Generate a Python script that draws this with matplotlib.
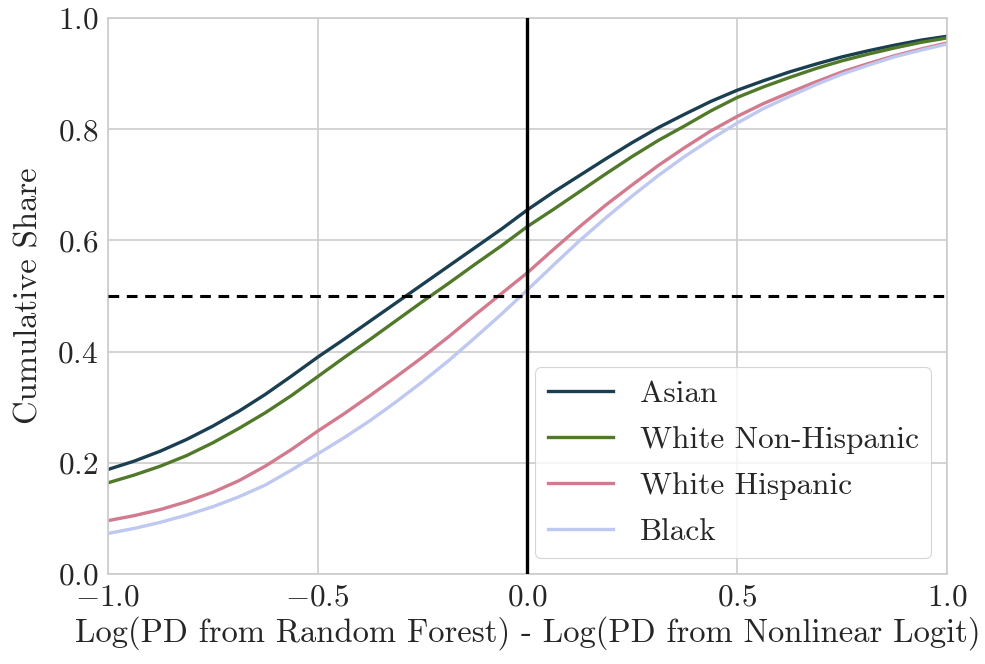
import matplotlib
matplotlib.use("Agg")
import matplotlib.pyplot as plt
import numpy as np

# log-PD difference grid (step 1/16) and cumulative shares
x_vals = [-1.0, -0.9375, -0.875, -0.8125, -0.75, -0.6875, -0.625, -0.5625,
          -0.5, -0.4375, -0.375, -0.3125, -0.25, -0.1875, -0.125, -0.0625,
          0.0, 0.0625, 0.125, 0.1875, 0.25, 0.3125, 0.375, 0.4375,
          0.5, 0.5625, 0.625, 0.6875, 0.75, 0.8125, 0.875, 0.9375, 1.0]
asian = [0.188, 0.203, 0.221, 0.242, 0.266, 0.293, 0.323, 0.356,
         0.390, 0.422, 0.455, 0.488, 0.521, 0.554, 0.587, 0.620,
         0.655, 0.687, 0.717, 0.747, 0.776, 0.803, 0.827, 0.850,
         0.870, 0.887, 0.903, 0.917, 0.930, 0.941, 0.951, 0.960, 0.967]
white_non_hisp = [0.164, 0.178, 0.194, 0.213, 0.236, 0.262, 0.290, 0.321,
                  0.355, 0.389, 0.422, 0.456, 0.490, 0.523, 0.557, 0.590,
                  0.625, 0.656, 0.688, 0.720, 0.751, 0.780, 0.806, 0.833,
                  0.857, 0.876, 0.893, 0.909, 0.923, 0.935, 0.946, 0.956, 0.964]
white_hisp = [0.096, 0.105, 0.116, 0.130, 0.147, 0.168, 0.194, 0.224,
              0.257, 0.288, 0.321, 0.355, 0.390, 0.427, 0.466, 0.504,
              0.542, 0.584, 0.625, 0.664, 0.700, 0.735, 0.767, 0.797,
              0.823, 0.846, 0.866, 0.885, 0.903, 0.918, 0.932, 0.944, 0.955]
black = [0.073, 0.082, 0.093, 0.106, 0.121, 0.139, 0.160, 0.187,
         0.216, 0.245, 0.276, 0.310, 0.346, 0.384, 0.425, 0.467,
         0.511, 0.556, 0.600, 0.641, 0.680, 0.717, 0.751, 0.782,
         0.811, 0.837, 0.859, 0.880, 0.899, 0.915, 0.930, 0.942, 0.953]

series = [
    ("Asian", asian, "#1a3f50"),
    ("White Non-Hispanic", white_non_hisp, "#507a2a"),
    ("White Hispanic", white_hisp, "#d27b8f"),
    ("Black", black, "#bec8f0"),
]

plt.rcParams["font.family"] = "cmr10"
plt.rcParams["mathtext.fontset"] = "cm"
plt.rcParams["axes.formatter.use_mathtext"] = True
plt.rcParams["text.color"] = "#262626"
plt.rcParams["axes.labelcolor"] = "#262626"
plt.rcParams["xtick.color"] = "#262626"
plt.rcParams["ytick.color"] = "#262626"

fig = plt.figure(figsize=(9.85, 6.64), dpi=100)
ax = fig.add_axes([0.1096, 0.1355, 0.8518, 0.8375])

for name, vals, color in series:
    ax.plot(x_vals, vals, color=color, linewidth=2.4, label=name,
            solid_joinstyle="round")

ax.axvline(0, color="black", linewidth=2.4, zorder=3)
ax.axhline(0.5, color="black", linewidth=2.2, linestyle=(0, (3.5, 2.5)), zorder=3)

ax.set_xlim(-1, 1)
ax.set_ylim(0, 1)
ax.set_xticks([-1.0, -0.5, 0.0, 0.5, 1.0])
ax.set_yticks([0.0, 0.2, 0.4, 0.6, 0.8, 1.0])
ax.grid(True, color="#cccccc", linewidth=1.2)
ax.set_axisbelow(True)
for spine in ax.spines.values():
    spine.set_color("#cccccc")
    spine.set_linewidth(1.2)
ax.tick_params(axis="both", length=0, labelsize=22.5, pad=7)

ax.set_xlabel("Log(PD from Random Forest) - Log(PD from Nonlinear Logit)", fontsize=23.5, labelpad=3)
ax.set_ylabel("Cumulative Share", fontsize=23.5, labelpad=10)

leg = ax.legend(loc="lower right", fontsize=22.5, frameon=True, fancybox=True,
                borderaxespad=0.5, borderpad=0.4, handlelength=2.1,
                handletextpad=0.85, labelspacing=0.58)
leg.get_frame().set_edgecolor("#cccccc")
leg.get_frame().set_linewidth(0.8)

fig.savefig("out.png", dpi=100)
